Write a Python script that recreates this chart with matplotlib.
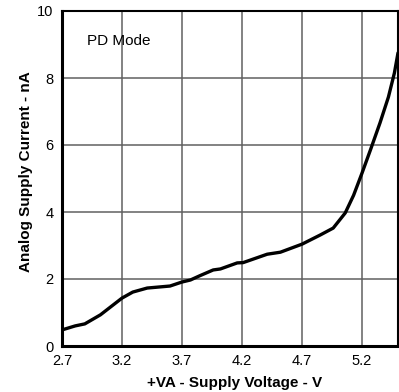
import matplotlib
matplotlib.use("Agg")
import matplotlib.pyplot as plt

plt.rcParams['font.family'] = ['Liberation Sans', 'DejaVu Sans']

# Supply voltage (V) and analog supply current in power-down mode (nA)
voltage = [2.70, 2.81, 2.89, 3.02, 3.20, 3.29, 3.41, 3.60, 3.70, 3.77, 3.85,
           3.96, 4.02, 4.16, 4.21, 4.41, 4.52, 4.70, 4.85, 4.96, 5.06, 5.13,
           5.20, 5.27, 5.35, 5.42, 5.47, 5.50]
current = [0.48, 0.60, 0.66, 0.93, 1.43, 1.61, 1.73, 1.79, 1.91, 1.97, 2.10,
           2.27, 2.30, 2.48, 2.49, 2.74, 2.80, 3.04, 3.31, 3.52, 3.97, 4.50,
           5.16, 5.85, 6.66, 7.43, 8.15, 8.75]

x_ticks = [2.7, 3.2, 3.7, 4.2, 4.7, 5.2]
y_ticks = [0, 2, 4, 6, 8, 10]

fig = plt.figure(figsize=(3.99, 3.92), dpi=100)
ax = fig.add_axes([62/399, 1-346/392, 336/399, 335/392])

ax.plot(voltage, current, color='black', lw=2.4, solid_capstyle='round',
        solid_joinstyle='round')

ax.set_xlim(2.7, 5.5)
ax.set_ylim(0, 10)
ax.set_xticks(x_ticks)
ax.set_xticklabels([f"{v:.1f}" for v in x_ticks])
ax.set_yticks(y_ticks)
ax.grid(True, color='#606060', lw=1.1)
ax.set_axisbelow(True)
ax.tick_params(length=0, labelsize=10.5)
ax.tick_params(axis='y', pad=6)
ax.tick_params(axis='x', pad=6)

for side in ['left', 'bottom']:
    ax.spines[side].set_linewidth(2.2)
for side in ['top', 'right']:
    ax.spines[side].set_linewidth(1.5)

ax.text(2.908, 9.1, 'PD Mode', fontsize=11, va='center')
ax.set_xlabel('+VA - Supply Voltage - V', fontsize=11, fontweight='bold')
ax.set_ylabel('Analog Supply Current - nA', fontsize=11, fontweight='bold')
ax.xaxis.set_label_coords(0.513, -0.089)
ax.yaxis.set_label_coords(-0.086, 0.521)

fig.savefig('out.png', dpi=100)
